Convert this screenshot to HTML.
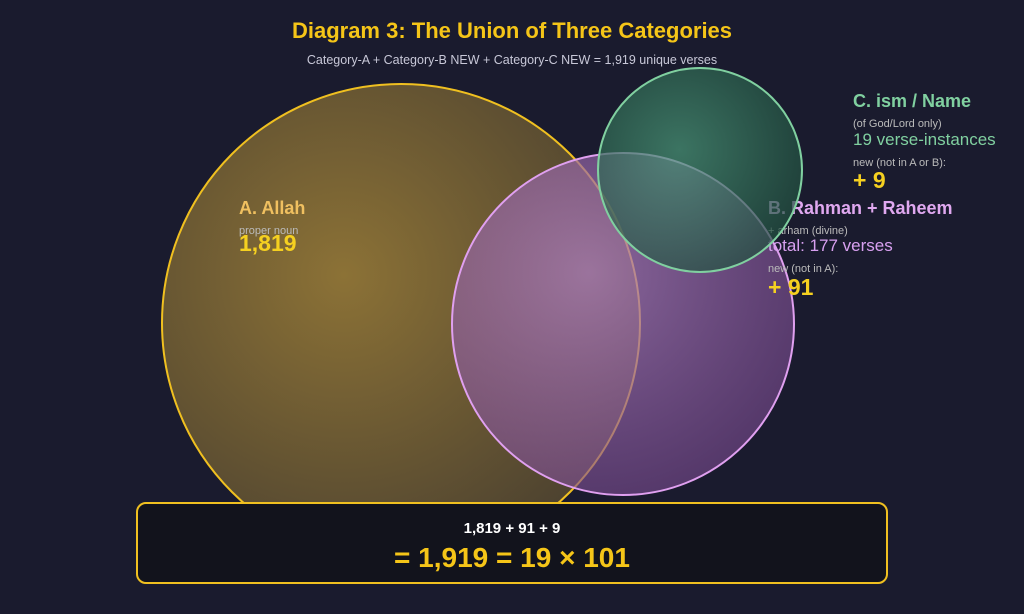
<!DOCTYPE html>
<html><head><meta charset="utf-8"><style>
html,body{margin:0;padding:0;background:#1a1b2e;}
svg{display:block;font-family:"Liberation Sans",sans-serif;}
</style></head><body>
<svg width="1024" height="614" viewBox="0 0 1024 614" xmlns="http://www.w3.org/2000/svg">
<defs>
<radialGradient id="ga" cx="0.38" cy="0.4" r="0.65">
<stop offset="0" stop-color="#8c7236"/><stop offset="1" stop-color="#4e4330"/></radialGradient>
<radialGradient id="gb" cx="0.4" cy="0.35" r="0.7">
<stop offset="0" stop-color="#b080c0" stop-opacity="0.75"/><stop offset="1" stop-color="#7a4a90" stop-opacity="0.6"/></radialGradient>
<radialGradient id="gc" cx="0.4" cy="0.4" r="0.7">
<stop offset="0" stop-color="#4a9a78" stop-opacity="0.7"/><stop offset="1" stop-color="#1e4a3a" stop-opacity="0.7"/></radialGradient>
</defs>
<rect width="1024" height="614" fill="#1a1b2e"/>
<text x="512" y="38" text-anchor="middle" font-size="22" font-weight="bold" fill="#f5c518">Diagram 3: The Union of Three Categories</text>
<text x="512" y="64" text-anchor="middle" font-size="12.5" fill="#c8c8d8">Category-A + Category-B NEW + Category-C NEW = 1,919 unique verses</text>
<circle cx="401" cy="323" r="239" fill="url(#ga)" stroke="#f0c020" stroke-width="2"/>
<text x="239" y="214" font-size="18" font-weight="bold" fill="#f0c060">A. Allah</text>
<text x="239" y="234" font-size="11" fill="#bbb">proper noun</text>
<text x="239" y="251" font-size="23" font-weight="bold" fill="#f5d020">1,819</text>
<circle cx="623" cy="324" r="171" fill="url(#gb)" stroke="#e0a0f0" stroke-width="2"/>
<text x="768" y="214" font-size="18" font-weight="bold" fill="#e0a8f0">B. Rahman + Raheem</text>
<text x="768" y="234" font-size="11" fill="#bbb">+ arham (divine)</text>
<text x="768" y="251" font-size="17" fill="#d8a0f0">total: 177 verses</text>
<text x="768" y="272" font-size="11" fill="#bbb">new (not in A):</text>
<text x="768" y="295" font-size="23" font-weight="bold" fill="#f5d020">+ 91</text>
<circle cx="700" cy="170" r="102" fill="url(#gc)" stroke="#80d0a0" stroke-width="2"/>
<text x="853" y="107" font-size="18" font-weight="bold" fill="#80d0a0">C. ism / Name</text>
<text x="853" y="127" font-size="11" fill="#bbb">(of God/Lord only)</text>
<text x="853" y="145" font-size="17" fill="#80d0a0">19 verse-instances</text>
<text x="853" y="166" font-size="11" fill="#bbb">new (not in A or B):</text>
<text x="853" y="188" font-size="23" font-weight="bold" fill="#f5d020">+ 9</text>
<rect x="137" y="503" width="750" height="80" rx="9" fill="#12131c" stroke="#f0c020" stroke-width="2"/>
<text x="512" y="533" text-anchor="middle" font-size="15" font-weight="bold" fill="#fff">1,819 + 91 + 9</text>
<text x="512" y="567" text-anchor="middle" font-size="28" font-weight="bold" fill="#f5c518">= 1,919 = 19 × 101</text>
</svg>
</body></html>
